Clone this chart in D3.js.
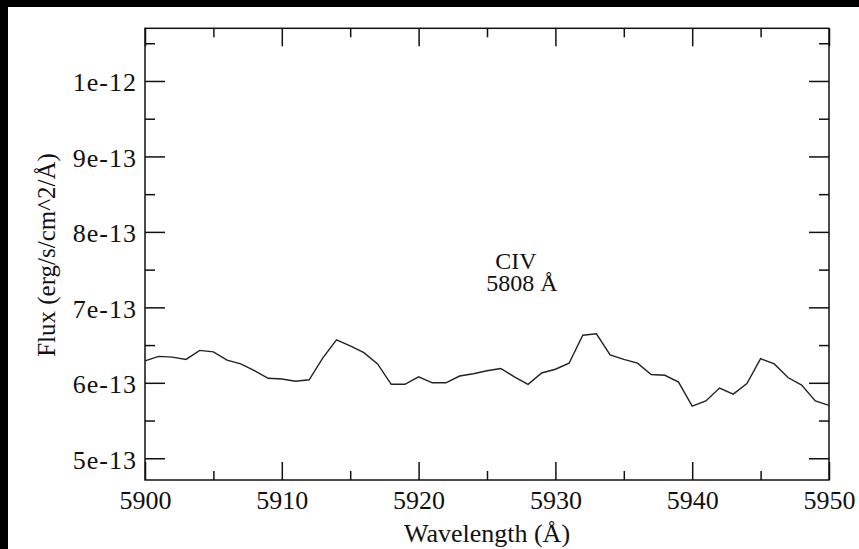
<!DOCTYPE html>
<html>
<head>
<meta charset="utf-8">
<script src="https://cdn.jsdelivr.net/npm/d3@7"></script>
<style>
  html, body { margin: 0; padding: 0; background: #000; }
  body { padding: 7px 0 0 8px; }
  svg { display: block; background: #fff; }
  text { font-family: "Liberation Serif", "Times New Roman", serif; fill: #111; }
</style>
</head>
<body>
<svg width="851" height="542"></svg>
<script>
// spectrum, flux in erg/s/cm^2/A
var wavelength = [5900, 5901, 5902, 5903, 5904, 5905, 5906, 5907, 5908, 5909,
                  5910, 5911, 5912, 5913, 5914, 5915, 5916, 5917, 5918, 5919,
                  5920, 5921, 5922, 5923, 5924, 5925, 5926, 5927, 5928, 5929,
                  5930, 5931, 5932, 5933, 5934, 5935, 5936, 5937, 5938, 5939,
                  5940, 5941, 5942, 5943, 5944, 5945, 5946, 5947, 5948, 5949, 5950];
var flux = [6.29e-13, 6.35e-13, 6.34e-13, 6.31e-13, 6.43e-13, 6.41e-13, 6.30e-13, 6.25e-13, 6.16e-13, 6.06e-13,
            6.05e-13, 6.02e-13, 6.04e-13, 6.33e-13, 6.57e-13, 6.49e-13, 6.40e-13, 6.25e-13, 5.98e-13, 5.98e-13,
            6.08e-13, 6.00e-13, 6.00e-13, 6.09e-13, 6.12e-13, 6.16e-13, 6.19e-13, 6.08e-13, 5.98e-13, 6.13e-13,
            6.18e-13, 6.26e-13, 6.63e-13, 6.65e-13, 6.37e-13, 6.31e-13, 6.26e-13, 6.11e-13, 6.10e-13, 6.01e-13,
            5.69e-13, 5.76e-13, 5.93e-13, 5.85e-13, 5.99e-13, 6.32e-13, 6.25e-13, 6.07e-13, 5.97e-13, 5.76e-13, 5.70e-13];

var xTicks = [5900, 5910, 5920, 5930, 5940, 5950];
var xMinorTicks = [5905, 5915, 5925, 5935, 5945];
var yTicks = [5e-13, 6e-13, 7e-13, 8e-13, 9e-13, 1e-12];
var yTickLabels = ["5e-13", "6e-13", "7e-13", "8e-13", "9e-13", "1e-12"];
var yMinorTicks = [5.5e-13, 6.5e-13, 7.5e-13, 8.5e-13, 9.5e-13, 1.05e-12];

var svg = d3.select("svg");
var ox = 8, oy = 7; // svg offset in page
var pLeft = 145 - ox, pRight = 829 - ox, pTop = 28.3 - oy, pBottom = 480 - oy;

var x = d3.scaleLinear().domain([5900, 5950]).range([pLeft, pRight]);
var y = d3.scaleLinear().domain([4.712e-13, 1.0698e-12]).range([pBottom, pTop]);

// minor ticks
svg.append("g").attr("transform", "translate(0," + pBottom + ")")
    .call(d3.axisBottom(x).tickValues(xMinorTicks).tickSize(-9).tickFormat(""));
svg.append("g").attr("transform", "translate(0," + pTop + ")")
    .call(d3.axisTop(x).tickValues(xMinorTicks).tickSize(-9).tickFormat(""));
svg.append("g").attr("transform", "translate(" + pLeft + ",0)")
    .call(d3.axisLeft(y).tickValues(yMinorTicks).tickSize(-10).tickFormat(""));
svg.append("g").attr("transform", "translate(" + pRight + ",0)")
    .call(d3.axisRight(y).tickValues(yMinorTicks).tickSize(-10).tickFormat(""));

// major ticks
var xb = svg.append("g").attr("transform", "translate(0," + pBottom + ")")
    .call(d3.axisBottom(x).tickValues(xTicks).tickSize(-18).tickPadding(24).tickFormat(d3.format("d")));
svg.append("g").attr("transform", "translate(0," + pTop + ")")
    .call(d3.axisTop(x).tickValues(xTicks).tickSize(-18).tickFormat(""));
var yl = svg.append("g").attr("transform", "translate(" + pLeft + ",0)")
    .call(d3.axisLeft(y).tickValues(yTicks).tickSize(-20).tickPadding(8)
        .tickFormat(function(d, i) { return yTickLabels[i]; }));
svg.append("g").attr("transform", "translate(" + pRight + ",0)")
    .call(d3.axisRight(y).tickValues(yTicks).tickSize(-20).tickFormat(""));

svg.selectAll(".domain").remove();
svg.selectAll(".tick line").attr("stroke", "#111").attr("stroke-width", 1.5);
svg.selectAll(".tick text")
    .attr("font-family", "Liberation Serif")
    .attr("font-size", 26)
    .attr("fill", "#111");
xb.selectAll(".tick text").attr("dy", "0.2em");
yl.selectAll(".tick text").attr("dy", "0.38em").attr("letter-spacing", 1);

// frame
svg.append("rect")
    .attr("x", pLeft).attr("y", pTop)
    .attr("width", pRight - pLeft).attr("height", pBottom - pTop)
    .attr("fill", "none").attr("stroke", "#111").attr("stroke-width", 1.5);

// spectrum line
var pts = wavelength.map(function(w, i) { return [w, flux[i]]; });
svg.append("path")
    .datum(pts)
    .attr("fill", "none")
    .attr("stroke", "#222")
    .attr("stroke-width", 1.4)
    .attr("d", d3.line().x(function(d) { return x(d[0]); }).y(function(d) { return y(d[1]); }));

// labels
svg.append("text")
    .attr("x", (pLeft + pRight) / 2).attr("y", 542 - oy)
    .attr("text-anchor", "middle")
    .attr("font-size", 26)
    .text("Wavelength (Å)");

svg.append("text")
    .attr("transform", "translate(" + (54.5 - ox) + "," + (255 - oy) + ") rotate(-90)")
    .attr("text-anchor", "middle")
    .attr("font-size", 25)
    .text("Flux (erg/s/cm^2/Å)");

svg.append("text")
    .attr("x", 516 - ox).attr("y", 269 - oy)
    .attr("text-anchor", "middle")
    .attr("font-size", 24)
    .text("CIV");
svg.append("text")
    .attr("x", 522 - ox).attr("y", 291 - oy)
    .attr("text-anchor", "middle")
    .attr("font-size", 24)
    .text("5808 Å");
</script>
</body>
</html>
